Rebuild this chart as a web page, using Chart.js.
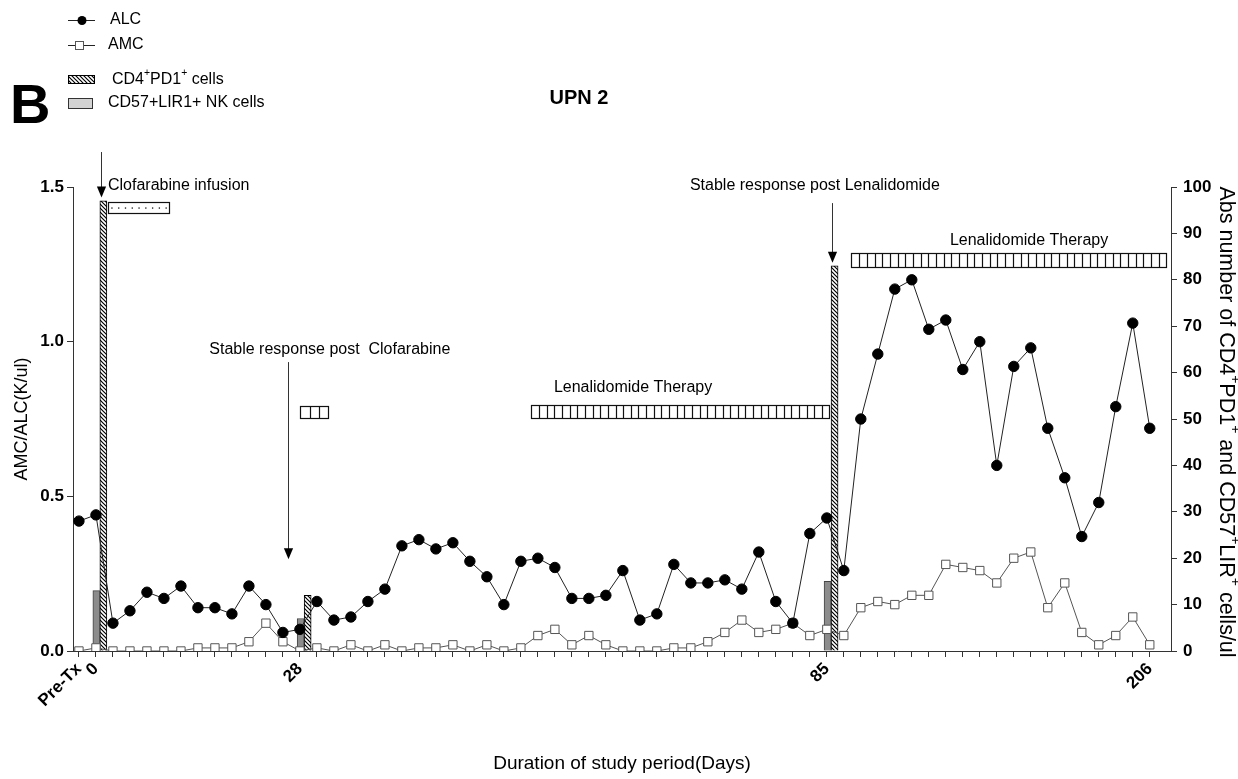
<!DOCTYPE html>
<html>
<head>
<meta charset="utf-8">
<script src="https://cdn.jsdelivr.net/npm/chart.js@4.4.1/dist/chart.umd.min.js"></script>
<style>
  html, body { margin: 0; padding: 0; background: #fff; }
</style>
</head>
<body>
<canvas id="upnChart" width="1238" height="779"></canvas>
<script>
const FONT = '"Liberation Sans", Arial, sans-serif';

// x axis: one slot per sample, only a few carry the study day
const tickIndex = [0, 1, 13, 44, 63];
const tickText = ["Pre-Tx", "0", "28", "85", "206"];

// ALC / AMC in K/ul (left axis)
const alc = [0.42, 0.44, 0.09, 0.13, 0.19, 0.17, 0.21, 0.14, 0.14, 0.12,
  0.21, 0.15, 0.06, 0.07, 0.16, 0.10, 0.11, 0.16, 0.20, 0.34,
  0.36, 0.33, 0.35, 0.29, 0.24, 0.15, 0.29, 0.30, 0.27, 0.17,
  0.17, 0.18, 0.26, 0.10, 0.12, 0.28, 0.22, 0.22, 0.23, 0.20,
  0.32, 0.16, 0.09, 0.38, 0.43, 0.26, 0.75, 0.96, 1.17, 1.20,
  1.04, 1.07, 0.91, 1.00, 0.60, 0.92, 0.98, 0.72, 0.56, 0.37,
  0.48, 0.79, 1.06, 0.72];
const amc = [0.00, 0.01, 0.00, 0.00, 0.00, 0.00, 0.00, 0.01, 0.01, 0.01,
  0.03, 0.09, 0.03, 0.00, 0.01, 0.00, 0.02, 0.00, 0.02, 0.00,
  0.01, 0.01, 0.02, 0.00, 0.02, 0.00, 0.01, 0.05, 0.07, 0.02,
  0.05, 0.02, 0.00, 0.00, 0.00, 0.01, 0.01, 0.03, 0.06, 0.10,
  0.06, 0.07, 0.09, 0.05, 0.07, 0.05, 0.14, 0.16, 0.15, 0.18,
  0.18, 0.28, 0.27, 0.26, 0.22, 0.30, 0.32, 0.14, 0.22, 0.06,
  0.02, 0.05, 0.11, 0.02];

// cell counts (right axis), measured at three time points
const cellAt = [1.23, 13.25, 44.25];
const nkCells = [13, 7, 15];
const pd1Cells = [97, 12, 83];

// therapy boxes (x in sample slots, y in left-axis units)
const boxFrom = [1.72, 13.0, 26.6, 45.45];
const boxTo = [5.31, 14.63, 44.1, 63.98];
const boxLow = [1.415, 0.752, 0.753, 1.241];
const boxHigh = [1.453, 0.793, 0.795, 1.286];
const boxKind = ["dots", "bars", "bars", "bars"];
const boxCells = [9, 3, 39, 41];

// arrows
const arrowAt = [1.29, 12.28, 44.31];
const arrowFrom = [1.613, 0.934, 1.448];
const arrowTo = [1.466, 0.297, 1.255];

// notes
const noteText = ["Clofarabine infusion", "Stable response post  Clofarabine",
  "Lenalidomide Therapy", "Stable response post Lenalidomide", "Lenalidomide Therapy"];
const noteX = [1.71, 14.76, 32.6, 43.3, 55.9];
const noteY = [1.503, 0.973, 0.850, 1.503, 1.326];
const noteAlign = ["left", "center", "center", "center", "center"];

Chart.defaults.font.family = FONT;
Chart.defaults.color = "#000";

function makeHatch() {
  const c = document.createElement("canvas");
  c.width = 4; c.height = 4;
  const g = c.getContext("2d");
  g.fillStyle = "#fff";
  g.fillRect(0, 0, 4, 4);
  g.strokeStyle = "#000";
  g.lineWidth = 1.2;
  g.beginPath();
  g.moveTo(0, 0); g.lineTo(4, 4);
  g.moveTo(-1, 3); g.lineTo(1, 5);
  g.moveTo(3, -1); g.lineTo(5, 1);
  g.stroke();
  return g.createPattern(c, "repeat");
}
const hatch = makeHatch();

// text with superscript parts (parts starting with ^)
function richWidth(ctx, parts, size) {
  let w = 0;
  parts.forEach((p) => {
    const sup = p.startsWith("^");
    ctx.font = (sup ? size * 0.65 : size) + "px " + FONT;
    w += ctx.measureText(sup ? p.slice(1) : p).width;
  });
  return w;
}
function richText(ctx, parts, x, y, size) {
  let cx = x;
  parts.forEach((p) => {
    const sup = p.startsWith("^");
    const t = sup ? p.slice(1) : p;
    ctx.font = (sup ? size * 0.65 : size) + "px " + FONT;
    ctx.fillText(t, cx, sup ? y - size * 0.4 : y);
    cx += ctx.measureText(t).width;
  });
}

const notesPlugin = {
  id: "notes",
  afterDraw(chart) {
    const c = chart.ctx;
    const xs = chart.scales.x;
    const ys = chart.scales.y;
    c.save();

    // therapy boxes
    boxFrom.forEach((f, k) => {
      const l = Math.round(xs.getPixelForValue(f)) + 0.5;
      const r = Math.round(xs.getPixelForValue(boxTo[k])) + 0.5;
      const t = Math.round(ys.getPixelForValue(boxHigh[k])) + 0.5;
      const b = Math.round(ys.getPixelForValue(boxLow[k])) + 0.5;
      c.fillStyle = "#fff";
      c.fillRect(l, t, r - l, b - t);
      c.strokeStyle = "#111";
      c.fillStyle = "#111";
      c.lineWidth = 1.2;
      const n = boxCells[k];
      if (boxKind[k] === "dots") {
        for (let i = 0; i < n; i++) {
          const px = l + ((r - l) * (i + 0.5)) / n;
          c.fillRect(px - 0.6, (t + b) / 2 - 0.6, 1.3, 1.3);
        }
      } else {
        c.beginPath();
        for (let i = 1; i < n; i++) {
          const px = Math.round(l + ((r - l) * i) / n) + 0.5;
          c.moveTo(px, t);
          c.lineTo(px, b);
        }
        c.stroke();
      }
      c.strokeRect(l, t, r - l, b - t);
    });

    // arrows
    arrowAt.forEach((a, k) => {
      const px = Math.round(xs.getPixelForValue(a)) + 0.5;
      const y0 = ys.getPixelForValue(arrowFrom[k]);
      const y1 = ys.getPixelForValue(arrowTo[k]);
      c.strokeStyle = "#333";
      c.lineWidth = 1;
      c.beginPath();
      c.moveTo(px, y0);
      c.lineTo(px, y1 - 10);
      c.stroke();
      c.fillStyle = "#000";
      c.beginPath();
      c.moveTo(px - 4.6, y1 - 11);
      c.lineTo(px + 4.6, y1 - 11);
      c.lineTo(px, y1);
      c.closePath();
      c.fill();
    });

    // notes
    c.fillStyle = "#000";
    c.font = "16px " + FONT;
    c.textBaseline = "middle";
    noteText.forEach((t, k) => {
      c.textAlign = noteAlign[k];
      c.fillText(t, xs.getPixelForValue(noteX[k]), ys.getPixelForValue(noteY[k]));
    });

    // legend
    c.textAlign = "left";
    c.strokeStyle = "#222";
    c.lineWidth = 1;
    c.beginPath();
    c.moveTo(68, 20.5); c.lineTo(95, 20.5);
    c.moveTo(68, 45.5); c.lineTo(95, 45.5);
    c.stroke();
    c.fillStyle = "#000";
    c.beginPath();
    c.arc(82, 20.5, 4.5, 0, Math.PI * 2);
    c.fill();
    c.fillStyle = "#fff";
    c.strokeStyle = "#555";
    c.fillRect(75.5, 41.5, 8, 8);
    c.strokeRect(75.5, 41.5, 8, 8);
    c.fillStyle = hatch;
    c.fillRect(68.5, 75.5, 26, 8);
    c.strokeStyle = "#000";
    c.strokeRect(68.5, 75.5, 26, 8);
    c.fillStyle = "#d3d3d3";
    c.fillRect(68.5, 98.5, 24, 10);
    c.strokeStyle = "#333";
    c.strokeRect(68.5, 98.5, 24, 10);
    c.fillStyle = "#000";
    c.font = "16px " + FONT;
    c.fillText("ALC", 110, 20);
    c.fillText("AMC", 108, 45);
    richText(c, ["CD4", "^+", "PD1", "^+", " cells"], 112, 80, 16);
    c.font = "16px " + FONT;
    c.fillText("CD57+LIR1+ NK cells", 108, 103);

    // panel letter and title
    c.textBaseline = "alphabetic";
    c.font = "bold 56px " + FONT;
    c.fillText("B", 10, 123);
    c.textAlign = "center";
    c.textBaseline = "middle";
    c.font = "bold 20px " + FONT;
    c.fillText("UPN 2", 579, 98);

    // right axis title, reads top to bottom
    const parts = ["Abs number of CD4", "^+", "PD1", "^+", " and CD57", "^+", "LIR", "^+", " cells/ul"];
    c.textAlign = "left";
    c.save();
    c.translate(1226, (chart.chartArea.top + chart.chartArea.bottom) / 2 + 3);
    c.rotate(Math.PI / 2);
    const w = richWidth(c, parts, 21.5);
    richText(c, parts, -w / 2, 0, 21.5);
    c.restore();

    c.restore();
  },
};

const ctx = document.getElementById("upnChart").getContext("2d");
new Chart(ctx, {
  type: "line",
  data: {
    datasets: [
      {
        type: "line",
        label: "ALC",
        data: alc.map((v, i) => ({ x: i, y: v })),
        yAxisID: "y",
        borderColor: "#222",
        borderWidth: 1,
        pointStyle: "circle",
        pointRadius: 5.2,
        pointBackgroundColor: "#000",
        pointBorderColor: "#000",
        tension: 0,
        order: 0,
      },
      {
        type: "line",
        label: "AMC",
        data: amc.map((v, i) => ({ x: i, y: v })),
        yAxisID: "y",
        borderColor: "#555",
        borderWidth: 1,
        pointStyle: "rect",
        pointRadius: 5.9,
        pointBackgroundColor: "#fff",
        pointBorderColor: "#555",
        pointBorderWidth: 1,
        tension: 0,
        order: 1,
      },
      {
        type: "bar",
        label: "CD57+LIR1+ NK cells",
        data: cellAt.map((x, k) => ({ x: x, y: nkCells[k] })),
        yAxisID: "y2",
        backgroundColor: "#8c8c8c",
        borderColor: "#444",
        borderWidth: 1,
        barThickness: 7,
        order: 2,
      },
      {
        type: "bar",
        label: "CD4+PD1+ cells",
        data: cellAt.map((x, k) => ({ x: x, y: pd1Cells[k] })),
        yAxisID: "y2",
        backgroundColor: hatch,
        borderColor: "#000",
        borderWidth: 1,
        barThickness: 7,
        order: 3,
      },
    ],
  },
  options: {
    responsive: false,
    animation: false,
    layout: { padding: { top: 187, left: 0, right: 0, bottom: 0 } },
    plugins: {
      legend: { display: false },
      tooltip: { enabled: false },
      title: { display: false },
    },
    scales: {
      x: {
        type: "linear",
        min: -0.35,
        max: 64.25,
        offset: false,
        afterBuildTicks: (s) => {
          s.ticks = alc.map((v, i) => ({ value: i }));
        },
        afterFit: (s) => {
          s.height = 128;
        },
        ticks: {
          autoSkip: false,
          maxRotation: 45,
          minRotation: 45,
          padding: 2,
          color: "#000",
          font: { size: 17, weight: "bold" },
          callback: (v) => {
            const k = tickIndex.indexOf(v);
            return k < 0 ? "" : tickText[k];
          },
        },
        grid: { drawOnChartArea: false, tickLength: 6, color: "#333", offset: false },
        border: { color: "#333", width: 1 },
        title: {
          display: true,
          text: "Duration of study period(Days)",
          color: "#000",
          font: { size: 19 },
          padding: { top: 0, bottom: 4 },
        },
      },
      y: {
        position: "left",
        min: 0,
        max: 1.5,
        afterBuildTicks: (s) => {
          s.ticks = [0, 0.5, 1, 1.5].map((v) => ({ value: v }));
        },
        afterFit: (s) => {
          s.width = 73;
        },
        ticks: {
          padding: 3,
          color: "#000",
          font: { size: 17, weight: "bold" },
          callback: (v) => v.toFixed(1),
        },
        grid: { drawOnChartArea: false, tickLength: 6, color: "#333" },
        border: { color: "#333", width: 1 },
        title: {
          display: true,
          text: "AMC/ALC(K/ul)",
          color: "#000",
          font: { size: 18 },
          padding: { top: 11, bottom: 0 },
        },
      },
      y2: {
        position: "right",
        min: 0,
        max: 100,
        afterBuildTicks: (s) => {
          s.ticks = [0, 10, 20, 30, 40, 50, 60, 70, 80, 90, 100].map((v) => ({ value: v }));
        },
        afterFit: (s) => {
          s.width = 67;
        },
        ticks: {
          padding: 6,
          color: "#000",
          font: { size: 17, weight: "bold" },
        },
        grid: { drawOnChartArea: false, tickLength: 6, color: "#333" },
        border: { color: "#333", width: 1 },
      },
    },
  },
  plugins: [notesPlugin],
});
</script>
</body>
</html>
